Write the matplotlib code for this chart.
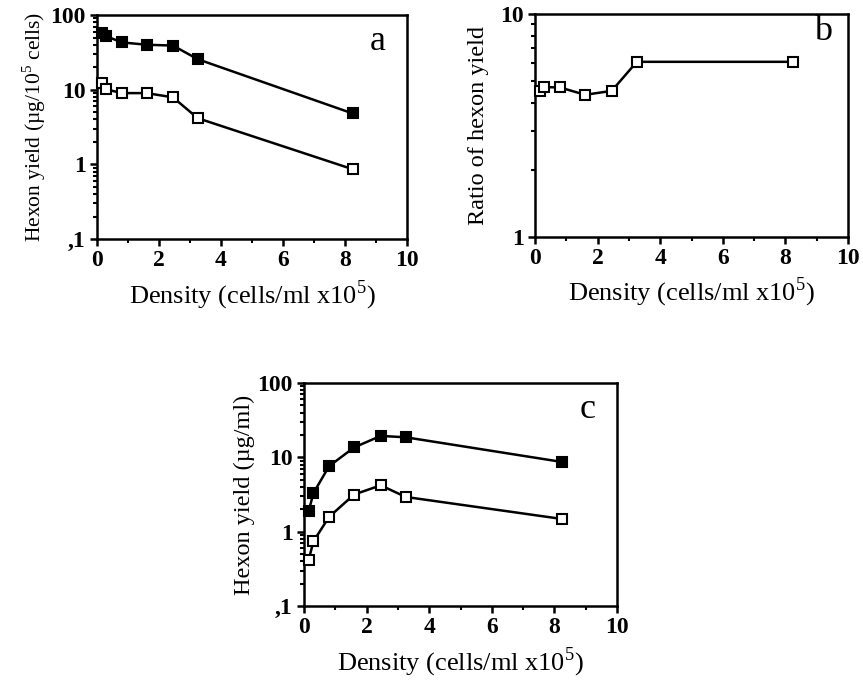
import numpy as np
import matplotlib.pyplot as plt
from matplotlib.ticker import FixedLocator, LogLocator, NullFormatter, MultipleLocator

plt.rcParams['font.family'] = ['Liberation Serif', 'DejaVu Serif']
plt.rcParams['mathtext.fontset'] = 'custom'
plt.rcParams['mathtext.rm'] = 'Liberation Serif'

# density (cells/ml x10^5)
density = [0.15, 0.3, 0.8, 1.6, 2.45, 3.25, 8.25]

# a: hexon yield per 10^5 cells
a_filled = [57, 52, 43, 40, 39, 25.6, 4.8]
a_open = [12.4, 10.1, 9.0, 9.0, 7.9, 4.15, 0.86]

# b: ratio of hexon yield
b_ratio = [4.5, 4.7, 4.68, 4.34, 4.52, 6.1, 6.1]

# c: hexon yield per ml
c_filled = [1.9, 3.3, 7.6, 13.6, 19.4, 18.6, 8.65]
c_open = [0.42, 0.74, 1.58, 3.16, 4.2, 2.93, 1.48]

xticks = [0, 2, 4, 6, 8, 10]
yticks_3dec = [0.1, 1, 10, 100]
ylabels_3dec = [',1', '1', '10', '100']
yticks_1dec = [1, 10]
ylabels_1dec = ['1', '10']

xlab = 'Density (cells/ml x10$^{5}$)'

fig = plt.figure(figsize=(8.63, 6.8), dpi=100)


def style(ax, ymin, ymax, yt, yl, letter, lpos=(0.93, 0.88)):
    ax.set_yscale('log')
    ax.set_xlim(0, 10)
    ax.set_ylim(ymin, ymax)
    ax.xaxis.set_major_locator(FixedLocator(xticks))
    ax.xaxis.set_minor_locator(MultipleLocator(1))
    ax.set_xticklabels([str(t) for t in xticks], fontsize=17, fontweight='bold')
    ax.yaxis.set_major_locator(FixedLocator(yt))
    ax.set_yticklabels(yl, fontsize=17, fontweight='bold')
    ax.yaxis.set_minor_locator(LogLocator(base=10, subs=np.arange(2, 10)))
    ax.yaxis.set_minor_formatter(NullFormatter())
    for s in ax.spines.values():
        s.set_linewidth(1.8)
    ax.tick_params(which='major', direction='out', length=5, width=1.8, pad=3)
    ax.tick_params(which='minor', direction='out', length=3, width=1.5)
    ax.set_xlabel(xlab, fontsize=19, labelpad=5)
    ax.text(lpos[0], lpos[1], letter, transform=ax.transAxes, fontsize=26,
            ha='right', va='center')


def series(ax, y, filled):
    ax.plot(density, y, color='black', lw=1.8, marker='s', markersize=7.5,
            markerfacecolor='black' if filled else 'white',
            markeredgecolor='black', markeredgewidth=1.5, clip_on=False, zorder=3)


ax_a = fig.add_axes([0.1124, 0.6485, 0.3592, 0.3294])
series(ax_a, a_filled, True)
series(ax_a, a_open, False)
style(ax_a, 0.1, 100, yticks_3dec, ylabels_3dec, 'a')
ax_a.set_ylabel('Hexon yield (\u00b5g/10$^{5}$ cells)', fontsize=15.5, labelpad=2)

ax_b = fig.add_axes([0.620, 0.6515, 0.3627, 0.328])
series(ax_b, b_ratio, False)
style(ax_b, 1, 10, yticks_1dec, ylabels_1dec, 'b', lpos=(0.95, 0.92))
ax_b.set_ylabel('Ratio of hexon yield', fontsize=17.5, labelpad=8)

ax_c = fig.add_axes([0.3523, 0.1088, 0.3627, 0.328])
series(ax_c, c_filled, True)
series(ax_c, c_open, False)
style(ax_c, 0.1, 100, yticks_3dec, ylabels_3dec, 'c')
ax_c.set_ylabel('Hexon yield (\u00b5g/ml)', fontsize=17.5, labelpad=2)

fig.savefig('out.png', dpi=100)
